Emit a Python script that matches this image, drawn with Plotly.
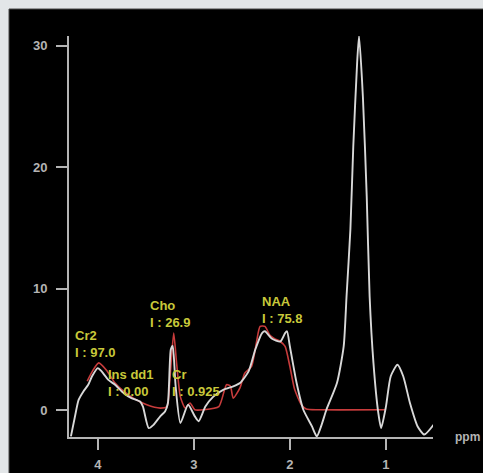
import plotly.graph_objects as go

# Measured spectrum (white) : chemical shift (ppm) and signal
spec_ppm = [4.28, 4.24, 4.20, 4.15, 4.10, 4.06, 4.00, 3.96, 3.89, 3.82, 3.73, 3.65, 3.56, 3.53,
            3.47, 3.42, 3.35, 3.30, 3.27, 3.24, 3.22, 3.19, 3.14, 3.06, 2.99, 2.95, 2.88, 2.80,
            2.69, 2.59, 2.52, 2.43, 2.36, 2.29, 2.26, 2.19, 2.10, 2.05, 2.03, 2.00, 1.93, 1.86,
            1.77, 1.72, 1.67, 1.62, 1.51, 1.44, 1.41, 1.37, 1.34, 1.30, 1.28, 1.24, 1.20, 1.17,
            1.13, 1.08, 1.05, 1.00, 0.95, 0.88, 0.82, 0.75, 0.67, 0.60, 0.49]
spec_val = [-2.15, -0.6, 0.86, 1.55, 2.1, 2.8, 3.47, 3.2, 2.5, 2.1, 1.4, 1.0, 0.72, 0.3,
            -1.47, -1.2, -0.5, -0.1, 0.6, 5.0, 5.3, 2.0, -1.05, 0.45, -0.5, -0.9, 0.3, 1.1,
            1.7, 1.96, 2.24, 3.2, 5.0, 6.35, 6.5, 5.9, 5.66, 6.35, 6.5, 5.25, 2.24, 0.04,
            -1.33, -2.15, -1.2, 0.04, 2.24, 5.25, 9.4, 14.9, 21.7, 28.6, 30.8, 25.8, 17.6, 9.4,
            3.9, -0.2, -1.47, 0.3, 2.8, 3.75, 2.8, 0.6, -1.33, -2.0, -1.05]

# Fitted spectrum (red)
fit_ppm = [4.11, 4.05, 3.99, 3.91, 3.82, 3.75, 3.63, 3.49, 3.35, 3.28, 3.25, 3.21, 3.18, 3.14,
           3.09, 3.04, 2.99, 2.90, 2.74, 2.66, 2.62, 2.59, 2.52, 2.47, 2.40, 2.35, 2.31, 2.26,
           2.21, 2.16, 2.10, 2.05, 2.00, 1.95, 1.88, 1.83, 1.70, 1.01]
fit_val = [2.4, 3.3, 3.9, 3.3, 2.24, 1.7, 1.0, 0.45, 0.18, 0.3, 2.5, 6.35, 3.9, 1.1,
           0.18, 0.6, 0.04, 0.04, 0.3, 2.1, 2.0, 1.0, 1.85, 3.06, 3.6, 5.5, 6.9, 6.9,
           6.2, 5.9, 5.66, 5.25, 3.6, 1.7, 0.45, 0.1, 0.04, 0.04]

# Metabolite labels
met_names = ["Cr2", "Ins dd1", "Cho", "Cr", "NAA"]
met_integrals = ["I : 97.0", "I : 0.00", "I : 26.9", "I : 0.925", "I : 75.8"]
met_ppm = [4.255, 3.91, 3.475, 3.25, 2.313]
met_val = [5.48, 2.26, 7.93, 2.26, 8.24]

x_ticks = [4, 3, 2, 1]
y_ticks = [0, 10, 20, 30]

W, H = 483, 473
L, R, T, B = 69, 50, 36, 36
pw, ph = W - L - R, H - T - B
FONT = "Liberation Sans, Arial, sans-serif"

fig = go.Figure()
fig.add_trace(go.Scatter(x=fit_ppm, y=fit_val, mode="lines",
                         line=dict(color="#c83c3c", width=1.6, shape="spline", smoothing=0.6),
                         hoverinfo="skip"))
fig.add_trace(go.Scatter(x=spec_ppm, y=spec_val, mode="lines",
                         line=dict(color="#d8d8d8", width=1.9, shape="spline", smoothing=0.6),
                         hoverinfo="skip"))

ann = []
for name, integ, xp, yv in zip(met_names, met_integrals, met_ppm, met_val):
    ann.append(dict(x=xp, y=yv, text="<b>%s<br>%s</b>" % (name, integ), showarrow=False,
                    xanchor="left", yanchor="middle", align="left",
                    font=dict(family=FONT, size=13, color="#c8c83a")))
ann.append(dict(xref="paper", yref="paper", x=(453 - L) / pw, y=0, text="<b>ppm</b>",
                showarrow=False, xanchor="left", yanchor="middle",
                font=dict(family=FONT, size=12, color="#b4b4b4")))

axis_common = dict(showline=True, linecolor="#b4b4b4", linewidth=2, ticks="outside",
                   ticklen=11, tickwidth=2, tickcolor="#b4b4b4", showgrid=False, zeroline=False,
                   automargin=False,
                   tickfont=dict(family=FONT, size=13, color="#b4b4b4", weight="bold"))

fig.update_layout(
    width=W, height=H,
    margin=dict(l=L, r=R, t=T, b=B, autoexpand=False),
    paper_bgcolor="#e3e6e8",
    plot_bgcolor="rgba(0,0,0,0)",
    showlegend=False,
    xaxis=dict(range=[4.30, 0.51], tickvals=x_ticks, ticklabelstandoff=3, **axis_common),
    yaxis=dict(range=[-2.2, 30.8], tickvals=y_ticks, ticklabelstandoff=6, **axis_common),
    annotations=ann,
    shapes=[dict(type="rect", xref="paper", yref="paper", layer="below",
                 x0=(9 - L) / pw, x1=1.3, y0=-0.2, y1=(H - B - 9) / ph,
                 fillcolor="#000000", line=dict(color="#4a4a4a", width=1))],
)

fig.write_html(
    "out.html",
    config={"responsive": False, "displayModeBar": False},
    post_script=(
        "document.documentElement.style.margin='0';"
        "document.body.style.margin='0';"
        "document.body.style.overflow='hidden';"
        "document.documentElement.style.overflow='hidden';"
        "var g=document.querySelector('.plotly-graph-div');"
        "g.style.position='fixed';g.style.left='0px';g.style.top='0px';"
    ),
)
